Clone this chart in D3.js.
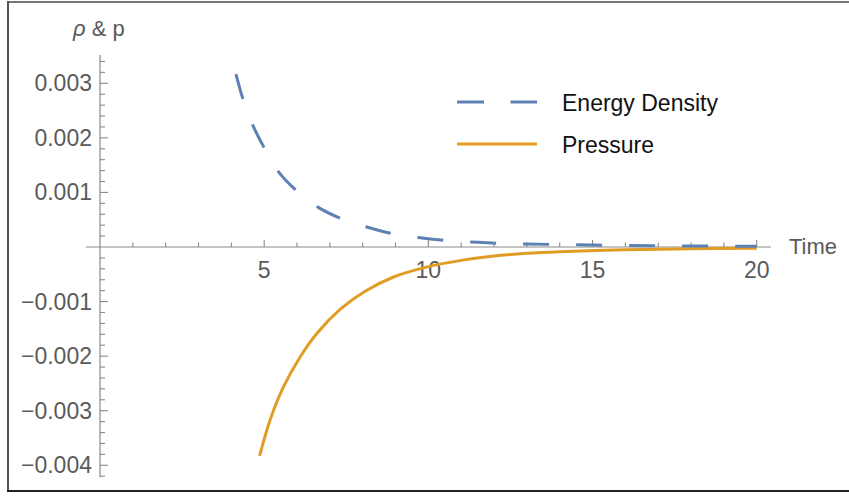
<!DOCTYPE html>
<html>
<head>
<meta charset="utf-8">
<script src="https://cdn.jsdelivr.net/npm/d3@7"></script>
<style>
  body { margin: 0; background: #fff; }
  svg { display: block; font-family: "Liberation Sans", Arial, sans-serif; }
</style>
</head>
<body>
<svg id="chart" width="849" height="496"></svg>
<script>
// values
const densityTime = [4.14, 4.35, 4.64, 4.99, 5.42, 5.95, 6.61, 7.32, 8.1, 8.86, 9.69, 10.47, 11.28, 12.1, 13, 14, 15, 16, 17, 18, 19, 20];
const densityValue = [0.00317, 0.00272, 0.00225, 0.00183, 0.00139, 0.00105, 0.00074, 0.000527, 0.000372, 0.000251, 0.000175, 0.000125, 0.000093, 0.00007, 0.000055, 0.000045, 0.000035, 0.000028, 0.000022, 0.000018, 0.000015, 0.000012];

const pressureTime = [4.86, 5.18, 5.59, 6.1, 6.61, 7.32, 8.05, 8.94, 10, 11, 12, 13, 14, 16, 18, 20];
const pressureValue = [-0.00383, -0.00317, -0.00256, -0.00201, -0.00158, -0.00114, -0.00082, -0.00055, -0.00036, -0.000245, -0.000165, -0.000115, -0.000085, -0.00005, -0.000032, -0.000022];

const xTicks = [5, 10, 15, 20];
const yTicks = [-0.004, -0.003, -0.002, -0.001, 0.001, 0.002, 0.003];
const seriesNames = ["Energy Density", "Pressure"];
const seriesColors = ["#5E81B5", "#E19C24"];

const svg = d3.select("#chart");

// frame like the screenshot
svg.append("line").attr("x1", 7).attr("x2", 849).attr("y1", 2).attr("y2", 2)
  .attr("stroke", "#777").attr("stroke-width", 2);
svg.append("line").attr("x1", 8).attr("x2", 8).attr("y1", 1).attr("y2", 492)
  .attr("stroke", "#555").attr("stroke-width", 2);
svg.append("line").attr("x1", 7).attr("x2", 849).attr("y1", 491).attr("y2", 491)
  .attr("stroke", "#222").attr("stroke-width", 2);

const x = d3.scaleLinear().domain([0, 20]).range([100, 756.7]);
const y = d3.scaleLinear().domain([0, 0.003]).range([247, 83.3]);

const axisColor = "#8a8a8a";
const labelColor = "#5a5a5a";

// axis lines
svg.append("line").attr("x1", x(-0.43)).attr("x2", x(20.43)).attr("y1", y(0)).attr("y2", y(0))
  .attr("stroke", axisColor).attr("stroke-width", 1.2);
svg.append("line").attr("x1", x(0)).attr("x2", x(0)).attr("y1", y(0.00352)).attr("y2", y(-0.00422))
  .attr("stroke", axisColor).attr("stroke-width", 1.2);

// x ticks (pointing up)
const xMinor = d3.range(1, 21);
svg.append("g").selectAll("line").data(xMinor).join("line")
  .attr("x1", d => x(d)).attr("x2", d => x(d))
  .attr("y1", y(0))
  .attr("y2", d => y(0) - (d % 5 === 0 ? 7 : 4.5))
  .attr("stroke", axisColor).attr("stroke-width", 1.1);

svg.append("g").selectAll("text").data(xTicks).join("text")
  .attr("x", d => x(d)).attr("y", y(0) + 30.5)
  .attr("text-anchor", "middle")
  .attr("font-size", 23).attr("fill", labelColor)
  .text(d => d);

// y ticks (pointing right)
const yMinor = d3.range(-21, 18).map(i => i * 0.0002).filter(v => Math.abs(v) > 1e-9);
svg.append("g").selectAll("line").data(yMinor).join("line")
  .attr("x1", x(0))
  .attr("x2", d => x(0) + (Math.abs(Math.round(d * 10000) % 10) === 0 ? 8 : 5))
  .attr("y1", d => y(d)).attr("y2", d => y(d))
  .attr("stroke", axisColor).attr("stroke-width", 1.1);

svg.append("g").selectAll("text").data(yTicks).join("text")
  .attr("x", x(0) - 8).attr("y", d => y(d) + 8)
  .attr("text-anchor", "end")
  .attr("font-size", 23).attr("fill", labelColor)
  .text(d => d3.format(".3f")(d).replace("-", "\u2212"));

// axis labels
svg.append("text").attr("x", 789).attr("y", 254)
  .attr("font-size", 22).attr("fill", labelColor).text("Time");

const yLab = svg.append("text").attr("x", 73).attr("y", 36)
  .attr("font-size", 22).attr("fill", labelColor);
yLab.append("tspan").attr("font-style", "italic").text("\u03C1");
yLab.append("tspan").text(" & p");

// curves
const line = d3.line().x(d => x(d[0])).y(d => y(d[1])).curve(d3.curveCatmullRom.alpha(0.5));

const density = densityTime.map((t, i) => [t, densityValue[i]]);
const pressure = pressureTime.map((t, i) => [t, pressureValue[i]]);

svg.append("path").datum(pressure)
  .attr("fill", "none").attr("stroke", seriesColors[1]).attr("stroke-width", 3)
  .attr("d", line);

svg.append("path").datum(density)
  .attr("fill", "none").attr("stroke", seriesColors[0]).attr("stroke-width", 3)
  .attr("stroke-dasharray", "26,27")
  .attr("d", line);

// legend
const legend = svg.append("g");
seriesNames.forEach((name, i) => {
  const ly = 102 + i * 42;
  legend.append("line")
    .attr("x1", 457).attr("x2", 537).attr("y1", ly).attr("y2", ly)
    .attr("stroke", seriesColors[i]).attr("stroke-width", 3)
    .attr("stroke-dasharray", i === 0 ? "27,26.5" : null);
  legend.append("text")
    .attr("x", 562).attr("y", ly + 9)
    .attr("font-size", 23).attr("fill", "#111")
    .text(name);
});
</script>
</body>
</html>
